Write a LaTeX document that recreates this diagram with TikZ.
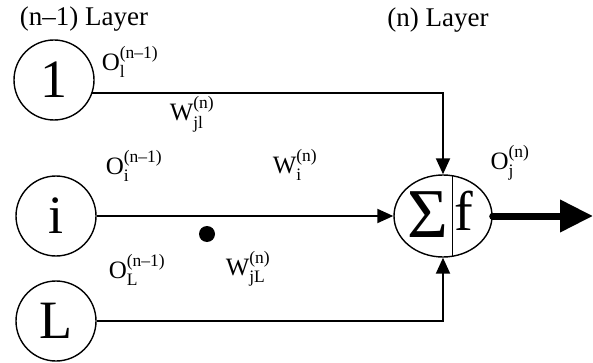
\documentclass[tikz,border=0pt]{standalone}
\usepackage{amsmath}
\usepackage{fontspec}
\setmainfont{Liberation Serif}
\usetikzlibrary{arrows.meta,calc,shapes.geometric}
\begin{document}
\begin{tikzpicture}[x=1pt,y=-1pt,
  neuron/.style={circle,draw,line width=1.4pt,minimum size=80pt,inner sep=0pt,font=\fontsize{54}{54}\selectfont},
  conn/.style={line width=2pt,-{Triangle[length=16pt,width=14pt]}},
  lab/.style={font=\fontsize{25}{27}\selectfont,inner sep=0pt},
  ttl/.style={font=\fontsize{27}{30}\selectfont,inner sep=0pt}]
\useasboundingbox (0,0) rectangle (593,363);
\node[ttl] (t1) at (84,19) {(n–1) Layer};
\node[ttl] (t2) at (438,20) {(n) Layer};
\node[neuron] (c1) at (54,80) {1};
\node[neuron] (ci) at (56,216) {i};
\node[neuron] (cL) at (56,321) {L};
\node[ellipse,draw,line width=1.4pt,minimum width=98pt,minimum height=82pt,inner sep=0pt] (sig) at (443,216) {};
\node[anchor=base,font=\fontsize{70}{70}\selectfont,inner sep=0pt] (S) at (427.5,237) {Σ};
\node[anchor=base,font=\fontsize{56}{56}\selectfont,inner sep=0pt] (f) at (464,230) {f};
\draw[line width=0.8pt] ($(sig.center)+(9,-40.3)$) -- ($(sig.center)+(9,40.3)$);
\draw[conn] (c1.-19) -| (sig.north);
\draw[conn] (ci.east) -- (sig.west);
\draw[conn] (cL.east) -| (sig.south);
\coordinate (out) at (593,216);
\draw[line width=7pt,line cap=round,-{Triangle[length=33pt,width=31pt]}] (sig.east) -- (out);
\node[circle,fill,minimum size=16pt,inner sep=0pt] (dot) at (207,234) {};
\node[lab] (o1) at (130,62) {$\text{O}_{\text{l}}^{\text{(n–1)}}$};
\node[lab] (w1) at (192,114) {$\text{W}_{\text{jl}}^{\text{(n)}}$};
\node[lab] (oi) at (134,166) {$\text{O}_{\text{i}}^{\text{(n–1)}}$};
\node[lab] (wi) at (295,165) {$\text{W}_{\text{i}}^{\text{(n)}}$};
\node[lab] (oL) at (137,270) {$\text{O}_{\text{L}}^{\text{(n–1)}}$};
\node[lab] (wL) at (248,269) {$\text{W}_{\text{jL}}^{\text{(n)}}$};
\node[lab] (oj) at (510,163) {$\text{O}_{\text{j}}^{\text{(n)}}$};
\end{tikzpicture}
\end{document}
